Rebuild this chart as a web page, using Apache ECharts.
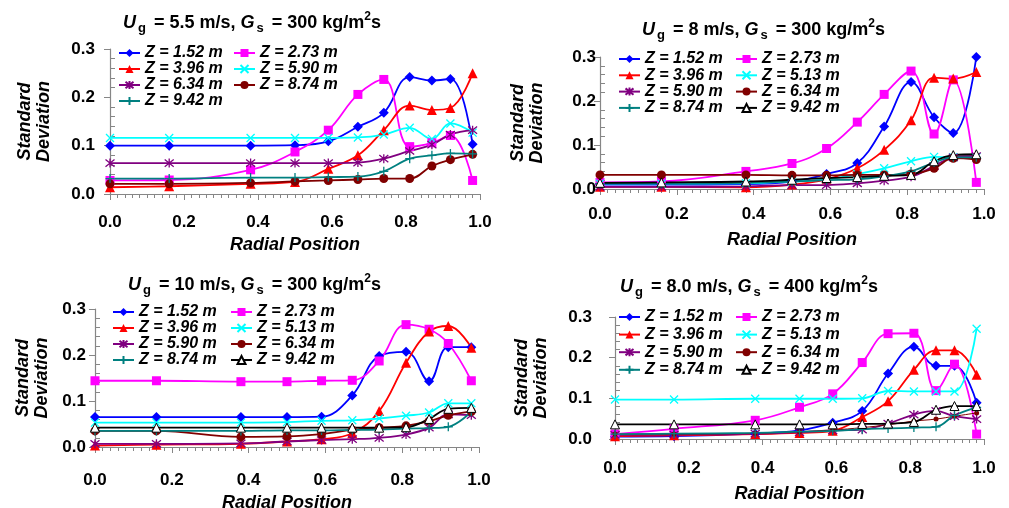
<!DOCTYPE html>
<html>
<head>
<meta charset="utf-8">
<title>Standard deviation vs radial position</title>
<script src="https://cdn.jsdelivr.net/npm/echarts@6/dist/echarts.min.js"></script>
<style>
  body { margin: 0; background: #fff; }
  .panel { position: absolute; height: 254px; }
</style>
</head>
<body>
<div id="p1" class="panel" style="left:0;top:0;width:505px"></div>
<div id="p2" class="panel" style="left:505px;top:0;width:504px"></div>
<div id="p3" class="panel" style="left:0;top:254px;width:505px"></div>
<div id="p4" class="panel" style="left:505px;top:254px;width:504px"></div>
<script>
// radial positions (r/R) of the measuring points
const radial = [0, 0.16, 0.38, 0.5, 0.59, 0.67, 0.74, 0.81, 0.87, 0.92, 0.98]
const xTicks = [0, 0.2, 0.4, 0.6, 0.8, 1.0]
const yTicks = [0, 0.1, 0.2, 0.3]

// Ug = 5.5 m/s, Gs = 300
const ug55Names = ['Z = 1.52 m', 'Z = 2.73 m', 'Z = 3.96 m', 'Z = 5.90 m', 'Z = 6.34 m', 'Z = 8.74 m', 'Z = 9.42 m']
const ug55_z152 = [0.100, 0.100, 0.100, 0.101, 0.109, 0.139, 0.168, 0.242, 0.235, 0.238, 0.103]
const ug55_z273 = [0.028, 0.029, 0.050, 0.087, 0.132, 0.206, 0.237, 0.098, 0.106, 0.121, 0.028]
const ug55_z396 = [0.014, 0.016, 0.021, 0.025, 0.052, 0.080, 0.132, 0.183, 0.174, 0.178, 0.250]
const ug55_z590 = [0.116, 0.116, 0.116, 0.116, 0.116, 0.117, 0.123, 0.137, 0.114, 0.146, 0.127]
const ug55_z634 = [0.064, 0.064, 0.064, 0.064, 0.064, 0.065, 0.073, 0.089, 0.102, 0.123, 0.132]
const ug55_z874 = [0.021, 0.021, 0.023, 0.026, 0.028, 0.030, 0.032, 0.032, 0.058, 0.071, 0.082]
const ug55_z942 = [0.032, 0.032, 0.034, 0.034, 0.035, 0.036, 0.047, 0.073, 0.080, 0.084, 0.083]

// Ug = 8 m/s, Gs = 300
const ug8Names = ['Z = 1.52 m', 'Z = 2.73 m', 'Z = 3.96 m', 'Z = 5.13 m', 'Z = 5.90 m', 'Z = 6.34 m', 'Z = 8.74 m', 'Z = 9.42 m']
const ug8_z152 = [0.010, 0.010, 0.011, 0.017, 0.034, 0.059, 0.142, 0.243, 0.163, 0.127, 0.300]
const ug8_z273 = [0.015, 0.017, 0.040, 0.058, 0.092, 0.152, 0.215, 0.268, 0.125, 0.248, 0.015]
const ug8_z396 = [0.005, 0.005, 0.004, 0.010, 0.022, 0.047, 0.089, 0.156, 0.253, 0.251, 0.266]
const ug8_z513 = [0.012, 0.012, 0.013, 0.017, 0.022, 0.034, 0.047, 0.063, 0.073, 0.072, 0.072]
const ug8_z590 = [0.005, 0.005, 0.006, 0.009, 0.009, 0.013, 0.019, 0.028, 0.052, 0.072, 0.075]
const ug8_z634 = [0.032, 0.032, 0.032, 0.031, 0.031, 0.032, 0.032, 0.034, 0.047, 0.070, 0.067]
const ug8_z874 = [0.012, 0.012, 0.014, 0.017, 0.020, 0.022, 0.029, 0.040, 0.060, 0.072, 0.072]
const ug8_z942 = [0.014, 0.015, 0.017, 0.021, 0.025, 0.027, 0.030, 0.032, 0.063, 0.077, 0.079]

// Ug = 10 m/s, Gs = 300
const ug10_z152 = [0.065, 0.065, 0.065, 0.065, 0.066, 0.112, 0.198, 0.207, 0.143, 0.217, 0.217]
const ug10_z273 = [0.144, 0.144, 0.142, 0.142, 0.144, 0.145, 0.187, 0.266, 0.256, 0.225, 0.144]
const ug10_z396 = [0.003, 0.005, 0.007, 0.012, 0.017, 0.030, 0.078, 0.183, 0.251, 0.263, 0.216]
const ug10_z513 = [0.053, 0.053, 0.053, 0.054, 0.057, 0.058, 0.062, 0.068, 0.075, 0.095, 0.095]
const ug10_z590 = [0.007, 0.007, 0.008, 0.012, 0.015, 0.017, 0.020, 0.027, 0.042, 0.071, 0.069]
const ug10_z634 = [0.035, 0.035, 0.022, 0.023, 0.028, 0.037, 0.042, 0.046, 0.056, 0.069, 0.077]
const ug10_z874 = [0.035, 0.035, 0.035, 0.036, 0.036, 0.037, 0.038, 0.040, 0.041, 0.044, 0.077]
const ug10_z942 = [0.042, 0.042, 0.042, 0.042, 0.042, 0.042, 0.042, 0.043, 0.061, 0.083, 0.085]

// Ug = 8.0 m/s, Gs = 400
const gs400_z152 = [0.006, 0.007, 0.013, 0.021, 0.040, 0.069, 0.161, 0.227, 0.180, 0.180, 0.089]
const gs400_z273 = [0.012, 0.025, 0.046, 0.078, 0.111, 0.188, 0.259, 0.260, 0.119, 0.184, 0.012]
const gs400_z396 = [0.007, 0.009, 0.012, 0.015, 0.020, 0.054, 0.093, 0.170, 0.218, 0.218, 0.158]
const gs400_z513 = [0.097, 0.097, 0.099, 0.099, 0.099, 0.100, 0.118, 0.117, 0.117, 0.117, 0.271]
const gs400_z590 = [0.010, 0.011, 0.013, 0.017, 0.021, 0.023, 0.038, 0.060, 0.069, 0.056, 0.049]
const gs400_z634 = [0.012, 0.012, 0.014, 0.018, 0.022, 0.028, 0.035, 0.044, 0.049, 0.056, 0.064]
const gs400_z874 = [0.012, 0.013, 0.015, 0.018, 0.020, 0.024, 0.026, 0.028, 0.030, 0.058, 0.078]
const gs400_z942 = [0.036, 0.036, 0.036, 0.036, 0.036, 0.037, 0.038, 0.042, 0.072, 0.081, 0.081]

const FONT = 'Liberation Sans'
const AXIS_COLOR = '#868686'

// marker shapes, excel style
const X_MARK = 'path://M1,1L9,9M9,1L1,9'
const STAR_MARK = 'path://M1,1L9,9M9,1L1,9M5,0L5,10'
const PLUS_MARK = 'path://M0,5L10,5M5,0L5,10'

const styles = [
  { color: '#0000FF', symbol: 'diamond', size: 10 },
  { color: '#FF00FF', symbol: 'rect', size: 9 },
  { color: '#FF0000', symbol: 'triangle', size: 10 },
  { color: '#00FFFF', symbol: X_MARK, size: 8, stroke: true },
  { color: '#800080', symbol: STAR_MARK, size: 9, stroke: true },
  { color: '#800000', symbol: 'circle', size: 9 },
  { color: '#008080', symbol: PLUS_MARK, size: 9, stroke: true },
  { color: '#000000', symbol: 'triangle', size: 9, open: true }
]

function makeSeries(name, vals, st) {
  const item = { color: st.color }
  if (st.stroke) {
    item.borderColor = st.color
    item.borderWidth = 1.3
  }
  if (st.open) {
    item.color = '#fff'
    item.borderColor = st.color
    item.borderWidth = 1
  }
  return {
    name: name,
    type: 'line',
    smooth: 0.4,
    data: vals.map((v, i) => [radial[i], v]),
    symbol: st.symbol,
    symbolSize: st.size,
    showAllSymbol: true,
    lineStyle: { color: st.color, width: st.thin ? 1 : 1.8 },
    itemStyle: item,
    animation: false
  }
}

function titleText(ug, gs) {
  return '{u|U}{sub|g}{t| = ' + ug + ' m/s, }{u|G}{sub|s}{t| = ' + gs + ' kg/m}{sup|2}{t|s}'
}

function legendCol(left, top, gap, names) {
  return {
    orient: 'vertical',
    left: left,
    top: top,
    padding: 0,
    itemGap: gap,
    itemWidth: 21,
    itemHeight: 10,
    data: names,
    formatter: '{z|{name}}',
    textStyle: {
      fontFamily: FONT,
      rich: {
        z: { fontFamily: FONT, fontSize: 16, fontWeight: 'bold', fontStyle: 'italic', lineHeight: 16, color: '#000' }
      }
    }
  }
}

function buildOption(cfg) {
  const names = cfg.names
  const series = cfg.values.map((vals, i) => makeSeries(names[i], vals, Object.assign({}, styles[i], cfg.override[i] || {})))
  const col1 = names.filter((n, i) => i % 2 === 0)
  const col2 = names.filter((n, i) => i % 2 === 1)
  return {
    backgroundColor: '#fff',
    animation: false,
    title: {
      text: titleText(cfg.ug, cfg.gs),
      left: cfg.titleLeft,
      top: cfg.titleTop,
      textStyle: {
        fontFamily: FONT,
        rich: {
          u: { fontFamily: FONT, fontSize: 18, fontWeight: 'bold', fontStyle: 'italic', lineHeight: 24, color: '#000' },
          t: { fontFamily: FONT, fontSize: 18, fontWeight: 'bold', lineHeight: 24, color: '#000' },
          sub: { fontFamily: FONT, fontSize: 13, lineHeight: 11, verticalAlign: 'bottom', padding: [0, 3, 0, 2], color: '#000' },
          sup: { fontFamily: FONT, fontSize: 12, fontWeight: 'bold', lineHeight: 13, verticalAlign: 'top', color: '#000' }
        }
      }
    },
    legend: [
      legendCol(cfg.legend[0], cfg.legend[2], cfg.legend[3], col1),
      legendCol(cfg.legend[1], cfg.legend[2], cfg.legend[3], col2)
    ],
    grid: Object.assign({ outerBoundsMode: 'none', containLabel: false }, cfg.grid),
    xAxis: {
      type: 'value',
      min: xTicks[0],
      max: xTicks[xTicks.length - 1],
      interval: 0.2,
      name: 'Radial Position',
      nameLocation: 'middle',
      nameGap: cfg.xNameGap,
      nameTextStyle: { fontFamily: FONT, fontSize: 18, fontWeight: 'bold', fontStyle: 'italic', color: '#000' },
      axisLine: { lineStyle: { color: AXIS_COLOR, width: 1.2 } },
      axisTick: { length: 6, lineStyle: { color: AXIS_COLOR } },
      minorTick: { show: true, splitNumber: 10, length: 4, lineStyle: { color: AXIS_COLOR } },
      axisLabel: {
        margin: cfg.xLabelMargin,
        fontFamily: FONT, fontSize: 17, fontWeight: 'bold', color: '#000',
        formatter: v => v.toFixed(1)
      },
      splitLine: { show: false }
    },
    yAxis: [
      {
        type: 'value',
        min: yTicks[0],
        max: yTicks[yTicks.length - 1],
        interval: 0.1,
        name: 'Standard\nDeviation',
        nameLocation: 'middle',
        nameGap: cfg.yNameGap,
        nameTextStyle: { fontFamily: FONT, fontSize: 18, fontWeight: 'bold', fontStyle: 'italic', color: '#000', lineHeight: 19 },
        axisLine: { show: true, lineStyle: { color: AXIS_COLOR, width: 1.2 } },
        axisTick: { show: true, length: 6, lineStyle: { color: AXIS_COLOR } },
        axisLabel: {
          margin: cfg.yLabelMargin,
          fontFamily: FONT, fontSize: 17, fontWeight: 'bold', color: '#000',
          formatter: v => v.toFixed(1)
        },
        splitLine: { show: false }
      },
      {
        // second axis only for the small inward ticks
        type: 'value',
        min: 0,
        max: 0.3,
        interval: 0.1,
        position: 'left',
        axisLine: { show: false },
        axisTick: { show: false, inside: true },
        minorTick: { show: true, splitNumber: 5, length: 5, lineStyle: { color: AXIS_COLOR } },
        axisLabel: { show: false },
        splitLine: { show: false }
      }
    ],
    series: series
  }
}

const panels = [
  {
    el: 'p1', ug: '5.5', gs: '300', names: ug55Names,
    values: [ug55_z152, ug55_z273, ug55_z396, ug55_z590, ug55_z634, ug55_z874, ug55_z942],
    override: {},
    titleLeft: 118, titleTop: 6,
    legend: [118, 233, 45, 0],
    grid: { left: 110, right: 25, top: 49, bottom: 60 },
    xNameGap: 42, xLabelMargin: 20, yNameGap: 56, yLabelMargin: 15
  },
  {
    el: 'p2', ug: '8', gs: '300', names: ug8Names,
    values: [ug8_z152, ug8_z273, ug8_z396, ug8_z513, ug8_z590, ug8_z634, ug8_z874, ug8_z942],
    override: {},
    titleLeft: 132, titleTop: 13,
    legend: [113, 230, 51, 0.3],
    grid: { left: 95, right: 25, top: 57, bottom: 65 },
    xNameGap: 42, xLabelMargin: 17, yNameGap: 53, yLabelMargin: 4
  },
  {
    el: 'p3', ug: '10', gs: '300', names: ug8Names,
    values: [ug10_z152, ug10_z273, ug10_z396, ug10_z513, ug10_z590, ug10_z634, ug10_z874, ug10_z942],
    override: {},
    titleLeft: 123, titleTop: 14,
    legend: [112, 230, 50, 0],
    grid: { left: 95, right: 26, top: 55, bottom: 61 },
    xNameGap: 43, xLabelMargin: 25, yNameGap: 36, yLabelMargin: 9
  },
  {
    el: 'p4', ug: '8.0', gs: '400', names: ug8Names,
    values: [gs400_z152, gs400_z273, gs400_z396, gs400_z513, gs400_z590, gs400_z634, gs400_z874, gs400_z942],
    override: { 5: { size: 5, thin: true } },
    titleLeft: 110, titleTop: 16,
    legend: [113, 230, 55, 1.6],
    grid: { left: 110, right: 25, top: 63, bottom: 69 },
    xNameGap: 46, xLabelMargin: 21, yNameGap: 64, yLabelMargin: 23
  }
]

panels.forEach(cfg => {
  const chart = echarts.init(document.getElementById(cfg.el), null, { renderer: 'canvas' })
  chart.setOption(buildOption(cfg))
})
</script>
</body>
</html>
